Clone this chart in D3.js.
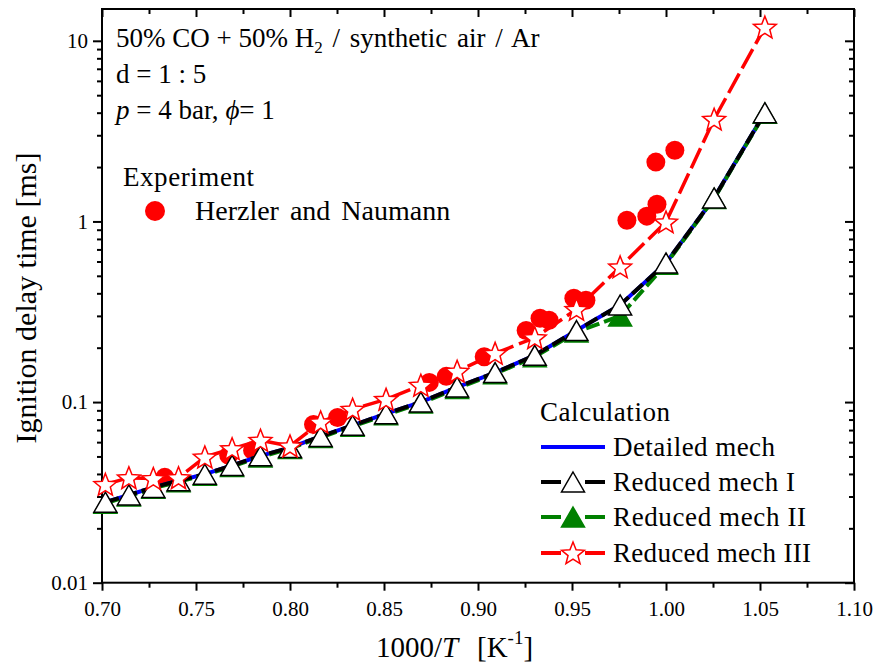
<!DOCTYPE html>
<html><head><meta charset="utf-8">
<script src="https://cdn.jsdelivr.net/npm/d3@7"></script>
<style>body{margin:0;background:#fff}svg{display:block}text{font-family:"Liberation Serif","Times New Roman",serif;fill:#000}</style>
</head><body>
<svg id="c" width="881" height="669"></svg>
<script>
// ---- data ----
const invT = [0.7018,0.7143,0.7273,0.7407,0.7547,0.7692,0.7843,0.8000,0.8163,0.8333,0.8511,0.8696,0.8889,0.9091,0.9302,0.9524,0.9756,1.0000,1.0256,1.0526];
const detailed = [0.0279,0.0306,0.0337,0.0367,0.0399,0.0446,0.0504,0.0560,0.0645,0.0743,0.0862,0.1000,0.1210,0.1456,0.1815,0.2490,0.3450,0.5890,1.3500,4.0000];
const reducedI = [0.0279,0.0306,0.0337,0.0367,0.0399,0.0446,0.0504,0.0560,0.0645,0.0743,0.0862,0.1000,0.1210,0.1456,0.1815,0.2490,0.3450,0.5890,1.3500,4.0000];
const reducedII = [0.0275,0.0302,0.0333,0.0362,0.0394,0.0440,0.0497,0.0553,0.0637,0.0734,0.0850,0.0987,0.1190,0.1435,0.1780,0.2440,0.3000,0.5800,1.3400,3.9700];
const reducedIII = [0.0350,0.0381,0.0377,0.0381,0.0496,0.0552,0.0614,0.0571,0.0775,0.0912,0.1035,0.1238,0.1480,0.1860,0.2270,0.3260,0.5600,0.9930,3.6800,11.900];
const expX = [0.7334,0.7674,0.7801,0.8125,0.8253,0.8741,0.8831,0.9033,0.9256,0.9330,0.9378,0.9510,0.9574,0.9792,0.9898,0.9952,0.9946,1.0047];
const expY = [0.0383,0.0507,0.0540,0.0752,0.0822,0.1285,0.1388,0.1780,0.2490,0.2910,0.2840,0.3760,0.3660,1.0150,1.0700,1.2450,2.1300,2.4800];
const xTicks = [0.70,0.75,0.80,0.85,0.90,0.95,1.00,1.05,1.10];
const xMinor = [0.725,0.775,0.825,0.875,0.925,0.975,1.025,1.075];
const yTicks = [0.01,0.1,1,10];
const yTickLabels = ["0.01","0.1","1","10"];
const legendCalc = ["Detailed mech","Reduced mech I","Reduced mech II","Reduced mech III"];

// ---- layout ----
const L=102,R=854,T=9,B=582.7;
const svg=d3.select("#c");
const x=d3.scaleLinear().domain([0.70,1.10]).range([L,R]);
const y=d3.scaleLog().domain([0.01,15]).range([B,T]);
const yMinor=[];
[0.01,0.1,1,10].forEach(d=>{for(let k=2;k<=9;k++){const v=d*k; if(v<=15) yMinor.push(v);}});

function styleAxis(g){g.select(".domain").remove();g.selectAll("line").attr("stroke","#000").attr("stroke-width",2);g.selectAll("text").attr("font-family","Liberation Serif").attr("font-size",21).attr("fill","#000");}
svg.append("g").attr("transform",`translate(0,${B})`).call(d3.axisBottom(x).tickValues(xTicks).tickSize(8).tickPadding(10).tickFormat(d3.format(".2f"))).call(styleAxis);
svg.append("g").attr("transform",`translate(0,${B})`).call(d3.axisBottom(x).tickValues(xMinor).tickSize(5).tickFormat("")).call(styleAxis);
svg.append("g").attr("transform",`translate(0,${T})`).call(d3.axisTop(x).tickValues(xTicks).tickSize(-8).tickFormat("")).call(styleAxis);
svg.append("g").attr("transform",`translate(0,${T})`).call(d3.axisTop(x).tickValues(xMinor).tickSize(-5).tickFormat("")).call(styleAxis);
svg.append("g").attr("transform",`translate(${L},0)`).call(d3.axisLeft(y).tickValues(yTicks).tickSize(9).tickPadding(5).tickFormat((d,i)=>yTickLabels[i])).call(styleAxis);
svg.append("g").attr("transform",`translate(${L},0)`).call(d3.axisLeft(y).tickValues(yMinor).tickSize(5).tickFormat("")).call(styleAxis);
svg.append("g").attr("transform",`translate(${R},0)`).call(d3.axisRight(y).tickValues(yTicks).tickSize(-9).tickFormat("")).call(styleAxis);
svg.append("g").attr("transform",`translate(${R},0)`).call(d3.axisRight(y).tickValues(yMinor).tickSize(-5).tickFormat("")).call(styleAxis);
svg.append("rect").attr("x",L).attr("y",T).attr("width",R-L).attr("height",B-T).attr("fill","none").attr("stroke","#000").attr("stroke-width",2);

// ---- marks ----
const triPath="M0,-10L11.5,10L-11.5,10Z";
function starPath(Ro,Ri){let p="";for(let i=0;i<10;i++){const r=i%2?Ri:Ro;const a=-Math.PI/2+i*Math.PI/5;p+=(i?"L":"M")+(r*Math.cos(a)).toFixed(2)+","+(r*Math.sin(a)).toFixed(2);}return p+"Z";}
const star=starPath(12,5.2);

svg.append("g").selectAll("circle").data(expX).join("circle")
  .attr("cx",d=>x(d)).attr("cy",(d,i)=>y(expY[i])).attr("r",9.5).attr("fill","#ff0000");

const line=d3.line().x(d=>x(d[0])).y(d=>y(d[1]));
const zip=v=>invT.map((t,i)=>[t,v[i]]);
svg.append("path").attr("d",line(zip(detailed))).attr("fill","none").attr("stroke","#0000ff").attr("stroke-width",4);
svg.append("path").attr("d",line(zip(reducedII))).attr("fill","none").attr("stroke","#008000").attr("stroke-width",4).attr("stroke-dasharray","14,5");
svg.append("g").selectAll("path").data(zip(reducedII)).join("path").attr("d",triPath)
  .attr("transform",d=>`translate(${x(d[0])},${y(d[1])})`).attr("fill","#008000").attr("stroke","#008000").attr("stroke-width",1.5);
svg.append("path").attr("d",line(zip(reducedI))).attr("fill","none").attr("stroke","#000").attr("stroke-width",4).attr("stroke-dasharray","14,5");
svg.append("g").selectAll("path").data(zip(reducedI)).join("path").attr("d",triPath)
  .attr("transform",d=>`translate(${x(d[0])},${y(d[1])})`).attr("fill","#fff").attr("stroke","#000").attr("stroke-width",1.5);
svg.append("path").attr("d",line(zip(reducedIII))).attr("fill","none").attr("stroke","#ff0000").attr("stroke-width",3.5).attr("stroke-dasharray","22,6");
svg.append("g").selectAll("path").data(zip(reducedIII)).join("path").attr("d",star)
  .attr("transform",d=>`translate(${x(d[0])},${y(d[1])+1})`).attr("fill","#fff").attr("stroke","#ff0000").attr("stroke-width",1.5);

// ---- text ----
function fit(t,len){t.attr("textLength",len).attr("lengthAdjust","spacing");return t;}
const t1=svg.append("text").attr("x",116).attr("y",47).attr("font-size",27);
t1.append("tspan").text("50% CO + 50% H");
t1.append("tspan").attr("font-size",17).attr("dy",6).text("2");
t1.append("tspan").attr("dy",-6).attr("word-spacing",3).text(" / synthetic air / Ar");
svg.append("text").attr("x",116).attr("y",83).attr("font-size",27).text("d = 1 : 5");
const t3=svg.append("text").attr("x",116).attr("y",119).attr("font-size",27);
t3.append("tspan").attr("font-style","italic").text("p");
t3.append("tspan").text(" = 4 bar, ");
t3.append("tspan").attr("font-style","italic").text("\u03D5");
t3.append("tspan").text("= 1");

fit(svg.append("text").attr("x",123).attr("y",186).attr("font-size",27).text("Experiment"),131);
svg.append("circle").attr("cx",155).attr("cy",211).attr("r",10).attr("fill","#ff0000");
svg.append("text").attr("x",195).attr("y",220).attr("font-size",28).attr("word-spacing",4).text("Herzler and Naumann");

fit(svg.append("text").attr("x",540).attr("y",421).attr("font-size",27).text("Calculation"),130);
const ly=[447,482,517,553];
const lg=svg.append("g");
lg.append("line").attr("x1",541).attr("x2",605).attr("y1",ly[0]).attr("y2",ly[0]).attr("stroke","#0000ff").attr("stroke-width",4);
[[ly[1],"#000"],[ly[2],"#008000"],[ly[3],"#ff0000"]].forEach(([yy,c])=>{
  lg.append("line").attr("x1",541).attr("x2",561).attr("y1",yy).attr("y2",yy).attr("stroke",c).attr("stroke-width",4);
  lg.append("line").attr("x1",585).attr("x2",605).attr("y1",yy).attr("y2",yy).attr("stroke",c).attr("stroke-width",4);
});
lg.append("path").attr("d",triPath).attr("transform",`translate(573,${ly[1]})`).attr("fill","#fff").attr("stroke","#000").attr("stroke-width",1.5);
lg.append("path").attr("d",triPath).attr("transform",`translate(573,${ly[2]})`).attr("fill","#008000").attr("stroke","#008000").attr("stroke-width",1.5);
lg.append("path").attr("d",star).attr("transform",`translate(573,${ly[3]+1})`).attr("fill","#fff").attr("stroke","#ff0000").attr("stroke-width",1.5);
const legW=[162,182,193,198];
legendCalc.forEach((s,i)=>fit(svg.append("text").attr("x",613).attr("y",ly[i]+9).attr("font-size",27).text(s),legW[i]));

svg.append("text").attr("transform","translate(36,298) rotate(-90)").attr("text-anchor","middle").attr("font-size",30).text("Ignition delay time [ms]");
const xt=svg.append("text").attr("x",376).attr("y",657).attr("font-size",29);
xt.append("tspan").text("1000/");
xt.append("tspan").attr("font-style","italic").text("T");
xt.append("tspan").attr("x",477).text("[K");
xt.append("tspan").attr("font-size",19).attr("dy",-13).text("-1");
xt.append("tspan").attr("dy",13).text("]");
</script>
</body></html>
